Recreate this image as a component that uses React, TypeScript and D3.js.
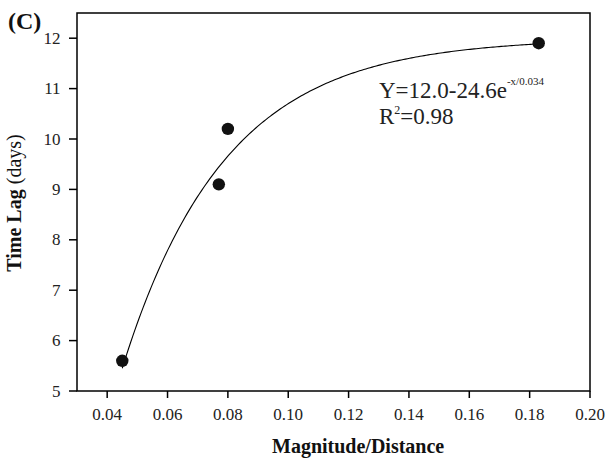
import React from "react";
import * as d3 from "d3";

// Observed time lag versus magnitude/distance
const magnitudeDistance = [0.045, 0.077, 0.080, 0.183];
const timeLagDays = [5.6, 9.1, 10.2, 11.9];

// Axis ticks
const xTicks = [0.04, 0.06, 0.08, 0.10, 0.12, 0.14, 0.16, 0.18, 0.20];
const yTicks = [5, 6, 7, 8, 9, 10, 11, 12];

// Exponential fit: Y = A - B * exp(-x / T)
const fitA = 12.0;
const fitB = 24.6;
const fitT = 0.034;
const fitRange = [0.045, 0.183];

const W = 612;
const H = 459;
const left = 77;
const right = 590;
const top = 13;
const bottom = 391;

export default function App() {
  const x = d3.scaleLinear().domain([0.03, 0.2]).range([left, right]);
  const y = d3.scaleLinear().domain([5, 12.5]).range([bottom, top]);

  const fitX = d3.range(0, 201).map(
    (i) => fitRange[0] + ((fitRange[1] - fitRange[0]) * i) / 200
  );
  const line = d3
    .line<number>()
    .x((d) => x(d))
    .y((d) => y(fitA - fitB * Math.exp(-d / fitT)));

  const font = "'Liberation Serif', 'Times New Roman', serif";

  return (
    <svg
      width={W}
      height={H}
      style={{ position: "absolute", left: 0, top: 0, background: "#fff" }}
      fontFamily={font}
    >
      <rect x={0} y={0} width={W} height={H} fill="#fff" />
      {/* frame */}
      <rect
        x={left}
        y={top}
        width={right - left}
        height={bottom - top}
        fill="none"
        stroke="#000"
        strokeWidth={1.5}
      />
      {/* x ticks */}
      {xTicks.map((t) => (
        <g key={"x" + t}>
          <line x1={x(t)} x2={x(t)} y1={bottom} y2={bottom + 7} stroke="#000" strokeWidth={1.5} />
          <text x={x(t)} y={420} textAnchor="middle" fontSize={17} fill="#222">
            {t.toFixed(2)}
          </text>
        </g>
      ))}
      {/* y ticks */}
      {yTicks.map((t) => (
        <g key={"y" + t}>
          <line x1={left - 8} x2={left} y1={y(t)} y2={y(t)} stroke="#000" strokeWidth={1.5} />
          <text x={60.5} y={y(t) + 5.5} textAnchor="end" fontSize={17} fill="#222">
            {t}
          </text>
        </g>
      ))}
      {/* fitted curve */}
      <path d={line(fitX) || ""} fill="none" stroke="#000" strokeWidth={1.1} />
      {/* observations */}
      {magnitudeDistance.map((v, i) => (
        <circle key={i} cx={x(v)} cy={y(timeLagDays[i])} r={6.2} fill="#111" />
      ))}
      {/* fit equation */}
      <text x={379} y={98} fontSize={23} fill="#222">
        Y=12.0-24.6e
        <tspan dy={-13} fontSize={11}>-x/0.034</tspan>
      </text>
      <text x={379} y={124} fontSize={23} fill="#222">
        R
        <tspan dy={-10} fontSize={12}>2</tspan>
        <tspan dy={10}>=0.98</tspan>
      </text>
      {/* panel label */}
      <text x={8} y={29} fontSize={24} fontWeight="bold" fill="#111">
        (C)
      </text>
      {/* axis titles */}
      <text x={272} y={453} fontSize={20} fontWeight="bold" fill="#111">
        Magnitude/Distance
      </text>
      <text
        transform={`translate(21, ${(top + bottom) / 2 + 1}) rotate(-90)`}
        textAnchor="middle"
        fontSize={20}
        fill="#111"
      >
        <tspan fontWeight="bold">Time Lag</tspan>
        <tspan> (days)</tspan>
      </text>
    </svg>
  );
}
